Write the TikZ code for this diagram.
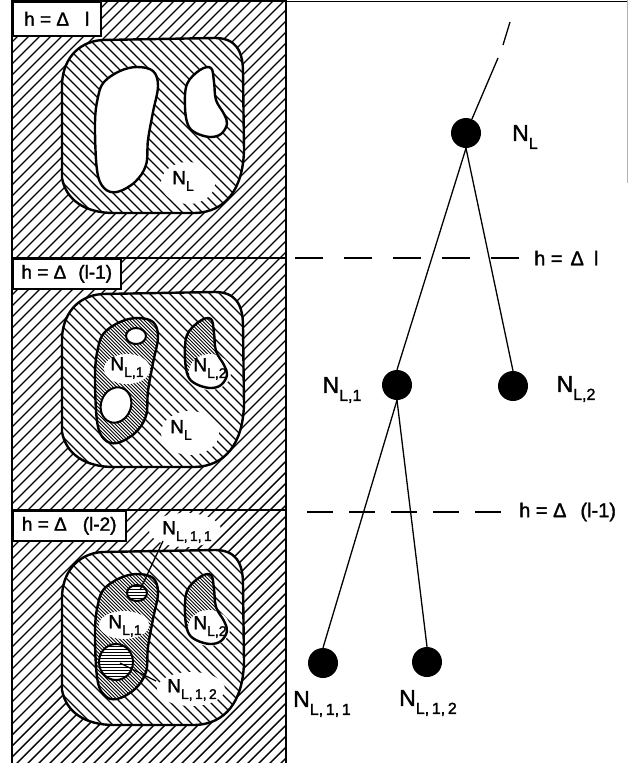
\documentclass[tikz,border=0pt]{standalone}
\usepackage{fontspec}
\setmainfont{Liberation Sans}[FakeBold=1.6]
\newcommand\blobshape{(62,178) -- (62,86) .. controls (62,62) and (76,42) .. (102,40) -- (215,38) .. controls (235,38) and (243,50) .. (243,72) -- (244,150) .. controls (243,190) and (225,212) .. (195,213) -- (114,213) .. controls (85,213) and (66,200) .. (62,178) -- cycle}
\newcommand\bigshape{plot[smooth cycle,tension=0.6] coordinates {(137,67) (153,71) (158,86) (153,112) (148,140) (146,165) (135,182) (117,192) (104,188) (97,170) (95,123) (98,97) (104,82) (120,71)}}
\newcommand\smallshape{plot[smooth cycle,tension=0.6] coordinates {(200,70) (211,68) (214,82) (216,100) (224,114) (227,124) (221,134) (210,137) (196,133) (188,125) (185,107) (187,84)}}
\newcommand\NN[1]{N\raisebox{-0.35em}{\fontsize{16}{16}\selectfont #1}}
\newcommand\nn[1]{N\raisebox{-0.35em}{\fontsize{14}{14}\selectfont #1}}
\tikzset{
  hatch/.style={line width=1.4pt},
  dense/.style={line width=1pt},
  outline/.style={line width=2.4pt},
  holeline/.style={line width=2pt},
  blot/.style={fill=white,draw=none},
  dot/.style={circle,fill=black,inner sep=0pt,minimum size=30pt},
  edge/.style={line width=1.3pt},
  treelab/.style={font=\fontsize{23}{25}\selectfont,inner sep=0pt},
  panellab/.style={font=\fontsize{19}{21}\selectfont,inner sep=0pt},
  levellab/.style={font=\fontsize{20}{22}\selectfont,inner sep=0pt,anchor=west},
  boxlab/.style={draw,fill=white,line width=1.5pt,anchor=north west,inner sep=0pt,font=\fontsize{19}{21}\selectfont},
  levelline/.style={line width=1.2pt}
}
\begin{document}
\begin{tikzpicture}[x=1pt,y=-1pt]
\useasboundingbox (0,0) rectangle (629,763);
% ---------- outer hatching of the left column
\begin{scope}
  \clip (12,0) rectangle (286,763);
  \foreach \i in {-760,-749,...,290} \draw[hatch] (\i,770) -- ++(800,-800);
\end{scope}
% ---------- panels
\foreach \s/\r in {0/0, 254/-3, 512/-5}{
  \begin{scope}[shift={(0,\s)}]
    \fill[white] \blobshape;
    \begin{scope}
      \clip \blobshape;
      \foreach \i in {-160,-150,...,210} \draw[hatch] (\i,0) -- ++(250,250);
    \end{scope}
  \end{scope}
}
% panel 1 : white holes
\fill[white] \bigshape;
\fill[white] \smallshape;
% panel 2 and 3 : densely hatched regions
\foreach \s in {251,507}{
  \begin{scope}[shift={(0,\s)}]
    \fill[white] \bigshape;
    \begin{scope}
      \clip \bigshape;
      \foreach \i in {-100,-96.5,...,95} \draw[dense] (\i,0) -- ++(220,220);
    \end{scope}
    \fill[white] \smallshape;
    \begin{scope}
      \clip \smallshape;
      \foreach \i in {45,48.5,...,160} \draw[dense] (\i,0) -- ++(220,220);
    \end{scope}
  \end{scope}
}
% panel 2 : white holes in N_{L,1}
\begin{scope}[shift={(0,251)}]
  \fill[white] (136,85) ellipse (10 and 8);
  \fill[white,rotate around={-20:(116,154)}] (116,154) ellipse (15 and 18);
\end{scope}
% panel 3 : hatched holes in N_{L,1}
\begin{scope}[shift={(0,507)}]
  \fill[white] (137,86) ellipse (10 and 8);
  \fill[white] (116,155) ellipse (17 and 18);
  \begin{scope}
    \clip (137,86) ellipse (10 and 8);
    \foreach \j in {76,79,...,96} \draw[dense] (120,\j) -- (160,\j);
  \end{scope}
  \begin{scope}
    \clip (116,155) ellipse (17 and 18);
    \foreach \j in {136,139,...,175} \draw[dense] (95,\j) -- (140,\j);
  \end{scope}
\end{scope}
% ---------- label blots
\fill[blot] (188,183) ellipse (27 and 21);
\fill[blot] (127,369) ellipse (23 and 15);
\fill[blot] (210,372) ellipse (21 and 18);
\fill[blot] (190,433) ellipse (29 and 22);
\fill[blot] (185,530) ellipse (36 and 17);
\fill[blot] (124,625) ellipse (25 and 14);
\fill[blot] (209,628) ellipse (21 and 18);
\fill[blot] (191,689) ellipse (34 and 17);
% ---------- outlines
\foreach \s/\r in {0/0, 254/-3, 512/-5}{
  \draw[outline,shift={(0,\s)}] \blobshape;
  \begin{scope}[shift={(0,\s+\r)}]
    \draw[outline] \bigshape;
    \draw[outline] \smallshape;
  \end{scope}
}
\begin{scope}[shift={(0,251)}]
  \draw[holeline] (136,85) ellipse (10 and 8);
  \draw[holeline,rotate around={-20:(116,154)}] (116,154) ellipse (15 and 18);
\end{scope}
\begin{scope}[shift={(0,507)}]
  \draw[holeline] (137,86) ellipse (10 and 8);
  \draw[holeline] (116,155) ellipse (17 and 18);
\end{scope}
% ---------- panel labels
\node[panellab] (pA) at (183,181) {\nn{L}};
\node[panellab] (pB1) at (127,368) {\nn{L,1}};
\node[panellab] (pB2) at (210,369) {\nn{L,2}};
\node[panellab] (pB) at (181,430) {\nn{L}};
\node[panellab] (pC11) at (187,532) {\nn{L,\,1,\,1}};
\node[panellab] (pC1) at (125,626) {\nn{L,1}};
\node[panellab] (pC2) at (210,627) {\nn{L,2}};
\node[panellab] (pC12) at (192,690) {\nn{L,\,1,\,2}};
\coordinate (q1a) at (163,541);
\coordinate (q1b) at (140,590);
\coordinate (q2a) at (156,681);
\coordinate (q2b) at (120,663);
\draw[line width=1.3pt] (q1a) -- (q1b);
\draw[line width=1.3pt] (q2a) -- (q2b);
% ---------- frame, dividers and boxes
\draw[line width=2.2pt] (12,258) -- (286,258);
\draw[line width=2.2pt] (12,510) -- (286,510);
\draw[line width=1.8pt] (12,763) -- (12,1) -- (286,1) -- (286,763);
\draw[line width=1pt] (286,1) -- (627,1);
\draw[gray!60,line width=0.8pt] (627,0) -- (627,183);
\node[boxlab,minimum width=88pt,minimum height=34pt] (b1) at (12,1) {h = Δ\hspace{16pt}l};
\node[boxlab,minimum width=108pt,minimum height=30pt] (b2) at (12,258) {h = Δ\hspace{12pt}(l-1)};
\node[boxlab,minimum width=113pt,minimum height=30pt] (b3) at (12,510) {h = Δ\hspace{16pt}(l-2)};
% ---------- tree
\node[dot] (NL) at (466,133) {};
\node[dot] (NL1) at (397,385) {};
\node[dot] (NL2) at (513,386) {};
\node[dot] (NL11) at (323,663) {};
\node[dot] (NL12) at (427,662) {};
\coordinate (u1) at (498,58);
\coordinate (u2) at (503,45);
\coordinate (u3) at (510,22);
\draw[edge] (NL) -- (u1);
\draw[edge] (u2) -- (u3);
\draw[edge] (NL.south) -- (NL1.north);
\draw[edge] (NL.south) -- (NL2.north);
\draw[edge] (NL1.south) -- (NL11.north);
\draw[edge] (NL1.south) -- (NL12.north);
\node[treelab] (tNL) at (525,137) {\NN{L}};
\node[treelab] (tNL1) at (342,390) {\NN{L,1}};
\node[treelab] (tNL2) at (576,389) {\NN{L,2}};
\node[treelab] (tNL11) at (322,704) {\NN{L,\,1,\,1}};
\node[treelab] (tNL12) at (428,703) {\NN{L,\,1,\,2}};
% ---------- level lines
\coordinate (d1a) at (295,258);
\coordinate (d1b) at (521,258);
\coordinate (d2a) at (307,512);
\coordinate (d2b) at (503,512);
\draw[levelline,dash pattern=on 28pt off 21pt] (d1a) -- (d1b);
\draw[levelline,dash pattern=on 26pt off 16pt] (d2a) -- (d2b);
\node[levellab] (lv1) at (534,258) {h =\hspace{8pt}Δ\hspace{10pt}l};
\node[levellab] (lv2) at (519,512) {h = Δ\hspace{14pt}(l-1)};
\end{tikzpicture}
\end{document}
